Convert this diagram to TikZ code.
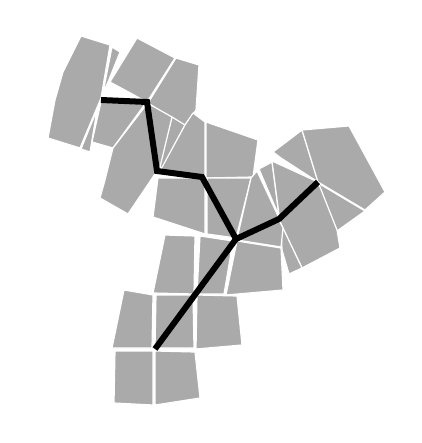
\documentclass[tikz,border=0pt]{standalone}
\definecolor{tilegray}{RGB}{170,170,170}
\begin{document}
\begin{tikzpicture}[x=1pt,y=-1pt,
  tile/.style={fill=tilegray,draw=white,line width=1.2pt,line join=round},
  spine/.style={draw=black,line width=6pt,line join=miter}]
\useasboundingbox (0,0) rectangle (421,443);
% upper-left cluster
\draw[tile] (101,100) -- (97,110) -- (90,152) -- (81,149) -- cycle;
\draw[tile] (112,47) -- (120,52) -- (108,82) -- (103,93) -- cycle;
\draw[tile] (81,36) -- (110,45) -- (101,98) -- (80,148) -- (48,138) -- (55,100) -- (63,72) -- cycle;
\draw[tile] (137,38) -- (175,58) -- (147,102) -- (110,82) -- cycle;
\draw[tile] (176,58) -- (199,65) -- (196,110) -- (184,126) -- (148,103) -- cycle;
\draw[tile] (101,102) -- (145,104) -- (113,148) -- (92,142) -- cycle;
\draw[tile] (147,104) -- (157,171) -- (128,214) -- (100,198) -- (105,180) -- (113,148) -- cycle;
\draw[tile] (172,117) -- (185,125) -- (162,169) -- (159,166) -- cycle;
\draw[tile] (149,104) -- (172,117) -- (160,167) -- (157,170) -- cycle;
\draw[tile] (185,125) -- (193,113) -- (205,122) -- (205,177) -- (160,171) -- cycle;
% middle
\draw[tile] (206,122) -- (258,140) -- (253,177) -- (206,178) -- cycle;
\draw[tile] (158,178) -- (205,178) -- (205,234) -- (153,217) -- cycle;
\draw[tile] (207,178) -- (251,178) -- (236,238) -- (207,234) -- cycle;
\draw[tile] (259,169) -- (272,162) -- (279,216) -- cycle;
\draw[tile] (251,178) -- (257,171) -- (279,218) -- (237,239) -- cycle;
% right cluster
\draw[tile] (273,152) -- (302,130) -- (318,182) -- (281,158) -- cycle;
\draw[tile] (302,130) -- (349,126) -- (385,192) -- (365,210) -- (318,182) -- cycle;
\draw[tile] (318,183) -- (365,211) -- (337,231) -- cycle;
\draw[tile] (272,161) -- (318,182) -- (337,230) -- (340,248) -- (302,268) -- (280,222) -- cycle;
\draw[tile] (281,224) -- (302,268) -- (289,274) -- (282,250) -- cycle;
\draw[tile] (237,240) -- (279,220) -- (283,228) -- (281,247) -- cycle;
\draw[tile] (237,241) -- (281,248) -- (283,290) -- (226,295) -- cycle;
% lower cluster
\draw[tile] (200,236) -- (233,241) -- (224,294) -- (197,294) -- cycle;
\draw[tile] (165,235) -- (195,236) -- (194,294) -- (153,293) -- cycle;
\draw[tile] (124,290) -- (153,295) -- (152,348) -- (112,348) -- cycle;
\draw[tile] (156,295) -- (193,295) -- (194,348) -- (155,348) -- cycle;
\draw[tile] (197,295) -- (237,296) -- (242,345) -- (196,349) -- cycle;
\draw[tile] (115,351) -- (153,351) -- (153,405) -- (114,403) -- cycle;
\draw[tile] (155,351) -- (195,352) -- (200,398) -- (155,405) -- cycle;
% spine
\coordinate (p1) at (101,100);
\coordinate (p2) at (147,102);
\coordinate (p3) at (157,171);
\coordinate (p4) at (202,177);
\coordinate (p5) at (236,239);
\coordinate (p6) at (279,219);
\coordinate (p7) at (318,182);
\coordinate (p8) at (155,349);
\draw[spine] (p1) -- (p2) -- (p3) -- (p4) -- (p5) -- (p6) -- (p7);
\draw[spine] (p5) -- (p8);
\end{tikzpicture}
\end{document}
